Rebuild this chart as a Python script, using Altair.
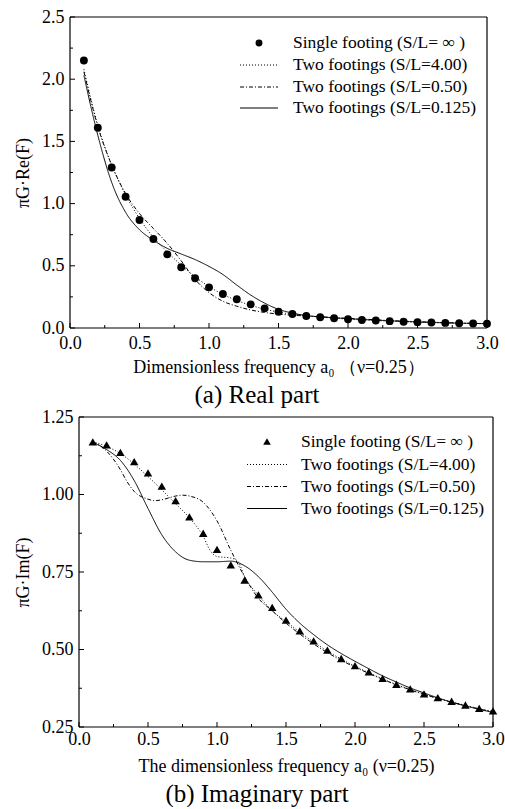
import altair as alt
import pandas as pd

# ---------------- data ----------------
# dimensionless frequency a0 at which the single-footing solution is sampled
A0 = [0.1, 0.2, 0.3, 0.4, 0.5, 0.6, 0.7, 0.8, 0.9, 1.0,
      1.1, 1.2, 1.3, 1.4, 1.5, 1.6, 1.7, 1.8, 1.9, 2.0,
      2.1, 2.2, 2.3, 2.4, 2.5, 2.6, 2.7, 2.8, 2.9, 3.0]

# (a) real part  piG*Re(F)
RE_SINGLE = [2.15, 1.61, 1.29, 1.055, 0.868, 0.715, 0.592, 0.488, 0.400, 0.327,
             0.273, 0.231, 0.190, 0.158, 0.131, 0.113, 0.096, 0.086, 0.078, 0.070,
             0.064, 0.060, 0.055, 0.050, 0.047, 0.044, 0.041, 0.038, 0.036, 0.034]
RE_S400 = [2.08, 1.63, 1.31, 1.07, 0.880, 0.730, 0.612, 0.505, 0.412, 0.333,
           0.270, 0.222, 0.182, 0.152, 0.128, 0.111, 0.098, 0.088, 0.079, 0.071,
           0.065, 0.060, 0.055, 0.051, 0.047, 0.044, 0.041, 0.038, 0.036, 0.034]
RE_S050 = [2.06, 1.62, 1.31, 1.08, 0.920, 0.800, 0.680, 0.540, 0.390, 0.285,
           0.215, 0.175, 0.145, 0.125, 0.112, 0.103, 0.096, 0.090, 0.084, 0.078,
           0.072, 0.066, 0.060, 0.055, 0.051, 0.047, 0.043, 0.040, 0.037, 0.035]
RE_S0125 = [2.03, 1.55, 1.17, 0.930, 0.790, 0.705, 0.640, 0.595, 0.550, 0.495,
            0.430, 0.345, 0.265, 0.200, 0.150, 0.120, 0.100, 0.090, 0.082, 0.075,
            0.069, 0.063, 0.058, 0.053, 0.049, 0.045, 0.042, 0.039, 0.037, 0.035]

# (b) imaginary part  piG*Im(F)
IM_SINGLE = [1.170, 1.160, 1.136, 1.106, 1.070, 1.027, 0.980, 0.928, 0.875, 0.823,
             0.773, 0.724, 0.676, 0.636, 0.595, 0.560, 0.528, 0.498, 0.471, 0.448,
             0.428, 0.407, 0.388, 0.373, 0.357, 0.345, 0.333, 0.321, 0.310, 0.302]
IM_S400_A = [0.1, 0.2, 0.3, 0.4, 0.5, 0.6, 0.7, 0.8, 0.9, 0.95, 1.0, 1.1, 1.15, 1.2,
             1.3, 1.4, 1.5, 1.6, 1.7, 1.8, 1.9, 2.0, 2.1, 2.2, 2.3, 2.4, 2.5, 2.6,
             2.7, 2.8, 2.9, 3.0]
IM_S400 = [1.170, 1.155, 1.132, 1.098, 1.058, 1.015, 0.970, 0.925, 0.865, 0.820, 0.800,
           0.795, 0.785, 0.735, 0.675, 0.625, 0.590, 0.556, 0.524, 0.495, 0.469,
           0.446, 0.425, 0.405, 0.387, 0.371, 0.356, 0.343, 0.331, 0.320, 0.309, 0.300]
IM_S050_A = [0.1, 0.2, 0.3, 0.35, 0.4, 0.5, 0.55, 0.6, 0.7, 0.75, 0.8, 0.9, 1.0, 1.1,
             1.2, 1.3, 1.4, 1.5, 1.6, 1.7, 1.8, 1.9, 2.0, 2.1, 2.2, 2.3, 2.4, 2.5,
             2.6, 2.7, 2.8, 2.9, 3.0]
IM_S050 = [1.170, 1.140, 1.080, 1.040, 1.010, 0.985, 0.980, 0.983, 0.995, 0.998, 0.995,
           0.975, 0.915, 0.820, 0.735, 0.665, 0.625, 0.585, 0.550, 0.518, 0.490,
           0.465, 0.443, 0.423, 0.404, 0.386, 0.370, 0.355, 0.342, 0.330, 0.319,
           0.308, 0.299]
IM_S0125 = [1.168, 1.145, 1.110, 1.045, 0.955, 0.870, 0.815, 0.788, 0.783, 0.783,
            0.785, 0.770, 0.735, 0.685, 0.630, 0.585, 0.548, 0.515, 0.487, 0.462,
            0.438, 0.415, 0.395, 0.376, 0.360, 0.344, 0.330, 0.318, 0.307, 0.297]

X_MAJOR = [0, 0.5, 1.0, 1.5, 2.0, 2.5, 3.0]
X_MINOR = [0.25, 0.75, 1.25, 1.75, 2.25, 2.75]

LABELS = ["Single footing (S/L= \u221e )",
          "Two footings (S/L=4.00)",
          "Two footings (S/L=0.50)",
          "Two footings (S/L=0.125)"]
DASHES = [[1, 2], [4, 2, 1, 2], [1, 0]]

SERIF = "Liberation Serif"


def line_frame(curves):
    rows = []
    for name, xs, ys in curves:
        for x, y in zip(xs, ys):
            rows.append({"a0": x, "v": y, "series": name})
    return pd.DataFrame(rows)


def panel(points, curves, shape, ydom, ymajor, yminor, xtitle, ytitle, caption,
          w, h, x0, leg, lab_pad, xpad, cap_offset, cap_dx):
    """One framed panel; the plot frame starts x0 px right of the group origin."""
    msize = 62 if shape == "circle" else 72
    xs = alt.Scale(domain=[0, 3], range=[x0, w], nice=False, zero=False)
    ys = alt.Scale(domain=ydom, nice=False, zero=False)
    x_axis = alt.Axis(values=X_MAJOR, format=".1f", ticks=False, grid=False,
                      domain=False, labelPadding=lab_pad, labelFlush=False,
                      title=xtitle, titlePadding=xpad)
    y_axis = alt.Axis(values=ymajor, format=".2f" if ydom[1] < 2 else ".1f",
                      ticks=False, grid=False, domain=False, labelPadding=6,
                      labelFlush=False, title=ytitle, titlePadding=9, offset=-x0)

    lines = alt.Chart(line_frame(curves)).mark_line(
        color="black", strokeWidth=1, interpolate="monotone").encode(
        x=alt.X("a0:Q", scale=xs, axis=x_axis),
        y=alt.Y("v:Q", scale=ys, axis=y_axis),
        strokeDash=alt.StrokeDash("series:N",
                                  scale=alt.Scale(domain=LABELS[1:], range=DASHES),
                                  legend=None),
        detail="series:N",
    )
    pts = alt.Chart(points).mark_point(
        shape=shape, filled=True, color="black", opacity=1, size=msize).encode(
        x=alt.X("a0:Q", scale=xs), y=alt.Y("v:Q", scale=ys))

    # plot frame, drawn on the data domain
    one = pd.DataFrame({"k": [0]})
    frame = [
        alt.Chart(one).mark_rule(color="black", strokeWidth=1.2).encode(
            x=alt.datum(0, scale=xs), y=alt.datum(ydom[0], scale=ys), y2=alt.datum(ydom[1])),
        alt.Chart(one).mark_rule(color="black", strokeWidth=1.2).encode(
            x=alt.datum(3, scale=xs), y=alt.datum(ydom[0], scale=ys), y2=alt.datum(ydom[1])),
        alt.Chart(one).mark_rule(color="black", strokeWidth=1.2).encode(
            y=alt.datum(ydom[0], scale=ys), x=alt.datum(0, scale=xs), x2=alt.datum(3)),
        alt.Chart(one).mark_rule(color="black", strokeWidth=1.2).encode(
            y=alt.datum(ydom[1], scale=ys), x=alt.datum(0, scale=xs), x2=alt.datum(3)),
    ]

    # inward tick marks
    ticks = [
        alt.Chart(pd.DataFrame({"t": X_MAJOR})).mark_rule(color="black").encode(
            x=alt.X("t:Q", scale=xs), y=alt.value(h), y2=alt.value(h - 5)),
        alt.Chart(pd.DataFrame({"t": X_MINOR})).mark_rule(color="black").encode(
            x=alt.X("t:Q", scale=xs), y=alt.value(h), y2=alt.value(h - 3)),
        alt.Chart(pd.DataFrame({"t": ymajor})).mark_rule(color="black").encode(
            y=alt.Y("t:Q", scale=ys), x=alt.value(x0), x2=alt.value(x0 + 5)),
        alt.Chart(pd.DataFrame({"t": yminor})).mark_rule(color="black").encode(
            y=alt.Y("t:Q", scale=ys), x=alt.value(x0), x2=alt.value(x0 + 3)),
    ]

    # legend inside the frame
    lx0, lx1, tx, rows = leg
    legend = []
    for i, lab in enumerate(LABELS):
        row = pd.DataFrame({"label": [lab]})
        legend.append(alt.Chart(row).mark_text(
            align="left", baseline="middle", font=SERIF, fontSize=17.5,
            color="black").encode(text="label:N", x=alt.value(tx),
                                  y=alt.value(rows[i])))
        if i == 0:
            legend.append(alt.Chart(row).mark_point(
                shape=shape, filled=True, color="black", opacity=1,
                size=msize - 14).encode(
                x=alt.value((lx0 + lx1) / 2), y=alt.value(rows[i])))
        else:
            legend.append(alt.Chart(row).mark_rule(
                color="black", strokeWidth=1, strokeDash=DASHES[i - 1]).encode(
                x=alt.value(lx0), x2=alt.value(lx1), y=alt.value(rows[i])))

    return alt.layer(lines, pts, *frame, *ticks, *legend).properties(
        width=w, height=h,
        title=alt.TitleParams(caption, orient="bottom", anchor="middle",
                              frame="group", font=SERIF, fontSize=25,
                              fontWeight="normal", color="black",
                              offset=cap_offset, dx=cap_dx),
    )


re_pts = pd.DataFrame({"a0": A0, "v": RE_SINGLE})
im_pts = pd.DataFrame({"a0": A0, "v": IM_SINGLE})

top = panel(
    re_pts,
    [(LABELS[1], A0, RE_S400), (LABELS[2], A0, RE_S050), (LABELS[3], A0, RE_S0125)],
    "circle", [0, 2.5], [0, 0.5, 1.0, 1.5, 2.0, 2.5],
    [0.25, 0.75, 1.25, 1.75, 2.25],
    "Dimensionless frequency a\u2080  \uff08\u03bd=0.25\uff09", "\u03c0G\u00b7Re(F)",
    "(a) Real part", 417, 311, 0, (170, 208, 223, [26, 48, 70, 91]),
    6, 6, 7, -21.5,
)
bottom = panel(
    im_pts,
    [(LABELS[1], IM_S400_A, IM_S400), (LABELS[2], IM_S050_A, IM_S050),
     (LABELS[3], A0, IM_S0125)],
    "triangle-up", [0.25, 1.25], [0.25, 0.5, 0.75, 1.0, 1.25],
    [0.375, 0.625, 0.875, 1.125],
    "The dimensionless frequency a\u2080 (\u03bd=0.25)", "\u03c0G\u00b7Im(F)",
    "(b) Imaginary part", 423, 310, 9, (177, 217, 231, [24.5, 47.5, 69.5, 91.5]),
    3, 9, 7, -24.5,
)

chart = alt.vconcat(top, bottom, spacing=0).properties(
    padding={"left": 14, "top": 8, "right": 0, "bottom": 0},
    background="white",
).configure_view(strokeWidth=0).configure_axis(
    labelFont=SERIF, labelFontSize=18, labelColor="black",
    titleFont=SERIF, titleFontSize=18, titleFontWeight="normal", titleColor="black",
)

chart.save("out.html", embed_options={"renderer": "svg", "actions": False})
